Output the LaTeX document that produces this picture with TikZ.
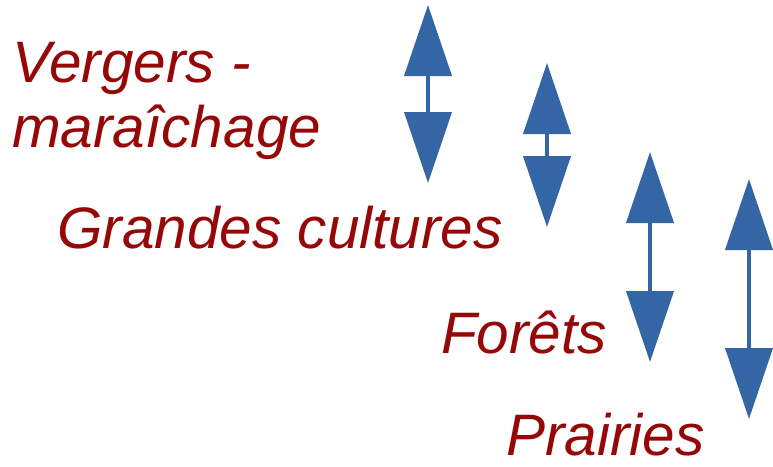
\documentclass[tikz,border=0pt]{standalone}
\usepackage{fontspec}
\setmainfont{Liberation Sans}
\usetikzlibrary{arrows.meta}
\definecolor{landred}{RGB}{150,8,8}
\definecolor{arrowblue}{RGB}{52,101,164}
\begin{document}
\begin{tikzpicture}[
            x=1pt,
            y=-1pt,
            label/.style={anchor=base west, inner sep=0pt, text=landred,
                font=\fontsize{58.5}{65}\selectfont\itshape, align=left},
            updown/.style={draw=arrowblue, line width=4pt,
                {Triangle[width=47pt, length=71pt, fill=arrowblue]}-{Triangle[width=47pt, length=71pt, fill=arrowblue]}}
        ]
        \useasboundingbox (0,0) rectangle (773,466);

        % land uses
        \node[label] (vergers) at (12,82) {Vergers -};
        \node[label] (marai) at (12,147) {maraîchage};
        \node[label] (grandes) at (57,248) {Grandes cultures};
        \node[label] (forets) at (441,353) {Forêts};
        \node[label] (prairies) at (506,455) {Prairies};

        % double arrows
        \coordinate (V1) at (428,5);
        \coordinate (V2) at (428,183);
        \coordinate (G1) at (547,63);
        \coordinate (G2) at (547,227);
        \coordinate (F1) at (650,152);
        \coordinate (F2) at (650,362);
        \coordinate (P1) at (749,179);
        \coordinate (P2) at (749,419);

        \draw[updown] (V1) -- (V2);
        \draw[updown] (G1) -- (G2);
        \draw[updown] (F1) -- (F2);
        \draw[updown] (P1) -- (P2);

    \end{tikzpicture}
\end{document}
